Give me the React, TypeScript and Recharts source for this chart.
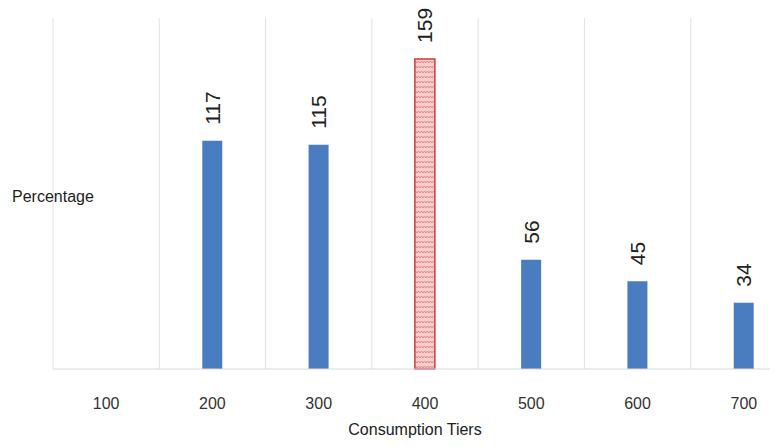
import { BarChart, Bar, XAxis, YAxis, CartesianGrid, Cell, LabelList } from 'recharts';

const tiers = ['100', '200', '300', '400', '500', '600', '700'];
const values = [0, 117, 115, 159, 56, 45, 34];
const highlight = '400';

const data = tiers.map((tier, i) => ({ tier, value: values[i] }));

const BLUE = '#4a7dbf';
const FONT = 'Arial, "Liberation Sans", sans-serif';

const ValueLabel = (props: any) => {
  const { x, y, width, value } = props;
  if (!value) return null;
  const cx = x + width / 2;
  const cy = y - 16;
  return (
    <text
      x={cx}
      y={cy}
      transform={`rotate(-90, ${cx}, ${cy})`}
      textAnchor="start"
      dominantBaseline="central"
      fontSize={21}
      fontFamily={FONT}
      fill="#222"
    >
      {value}
    </text>
  );
};

export default function App() {
  return (
    <div style={{ margin: -8, width: 778, height: 447, overflow: 'hidden', background: '#fff' }}>
      <BarChart width={800} height={447} data={data} margin={{ top: 18, right: 3, left: 0, bottom: 0 }}>
        <defs>
          <pattern id="zigzag" width="6" height="5" patternUnits="userSpaceOnUse">
            <rect width="6" height="5" fill="#f6cccc" />
            <path d="M0 3 L1.5 1 L3 3 L4.5 1 L6 3" fill="none" stroke="#de8080" strokeWidth="0.9" />
          </pattern>
        </defs>
        <CartesianGrid
          horizontal={false}
          stroke="#e2e2e2"
          verticalCoordinatesGenerator={({ offset }: any) => {
            const bw = offset.width / tiers.length;
            return tiers.map((_, i) => offset.left + i * bw).concat(offset.left + offset.width);
          }}
        />
        <XAxis
          dataKey="tier"
          height={78}
          tickLine={false}
          axisLine={{ stroke: '#d9d9d9' }}
          tickMargin={23}
          tick={{ fill: '#333', fontSize: 16, fontFamily: FONT }}
          label={{
            value: 'Consumption Tiers',
            position: 'insideBottom',
            offset: 12,
            dx: -10,
            fill: '#222',
            fontSize: 16,
            fontFamily: FONT,
          }}
        />
        <YAxis
          width={53}
          domain={[0, 180]}
          tick={false}
          tickLine={false}
          axisLine={false}
          label={{
            value: 'Percentage',
            position: 'insideLeft',
            offset: 12,
            dy: 3,
            fill: '#222',
            fontSize: 16,
            fontFamily: FONT,
          }}
        />
        <Bar dataKey="value" barSize={20} isAnimationActive={false}>
          {data.map((d, i) => (
            <Cell
              key={`cell-${i}`}
              fill={d.tier === highlight ? 'url(#zigzag)' : BLUE}
              stroke={d.tier === highlight ? '#d03a3a' : 'none'}
              strokeWidth={d.tier === highlight ? 1.5 : 0}
            />
          ))}
          <LabelList dataKey="value" content={ValueLabel} />
        </Bar>
      </BarChart>
    </div>
  );
}
